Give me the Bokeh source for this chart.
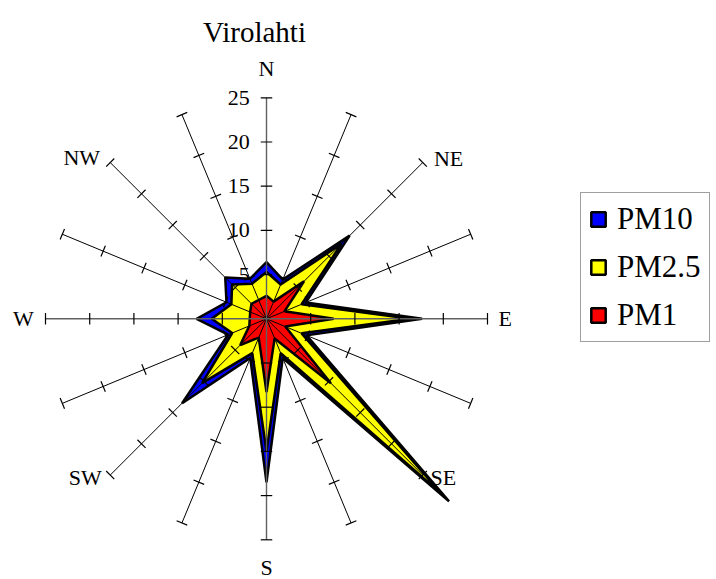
import numpy as np
from bokeh.plotting import figure
from bokeh.models import Range1d, Legend, LegendItem, Label
from bokeh.core.properties import value
from bokeh.embed import file_html
from bokeh.resources import INLINE

# ---- data ----
directions = ["N", "NNE", "NE", "ENE", "E", "ESE", "SE", "SSE",
              "S", "SSW", "SW", "WSW", "W", "WNW", "NW", "NNW"]
pm10 = [6.4, 4.8, 13.3, 4.8, 17.6, 4.9, 29.2, 4.8, 18.5, 4.8, 13.5, 4.7, 7.9, 4.9, 6.6, 4.9]
pm25 = [5.3, 4.2, 12.0, 4.3, 16.3, 4.3, 28.0, 4.2, 15.0, 4.2, 10.3, 4.2, 6.2, 4.3, 5.5, 4.3]
pm1 = [2.6, 2.1, 6.0, 2.2, 7.6, 2.3, 10.3, 2.4, 8.3, 2.3, 4.2, 2.1, 1.9, 2.0, 2.4, 2.3]
series_names = ["PM10", "PM2.5", "PM1"]
series_colors = ["#0000FF", "#FFFF00", "#FF0000"]
tick_values = [0, 5, 10, 15, 20, 25]
axis_max = 25
label_dirs = ["N", "NE", "E", "SE", "S", "SW", "W", "NW"]

# ---- layout ----
W, H = 712, 579
scale = 8.84          # px per unit
cx, cy = 266, 318.3   # centre in figure px (from top-left)
FONT = "Liberation Serif"

p = figure(width=W, height=H,
           x_range=Range1d(-cx / scale, (W - cx) / scale),
           y_range=Range1d(-(H - cy) / scale, cy / scale),
           x_axis_type=None, y_axis_type=None,
           output_backend="svg", toolbar_location=None, min_border=0)
p.grid.visible = False
p.outline_line_color = None
p.background_fill_color = "white"
p.border_fill_color = "white"

ang = np.deg2rad(np.arange(len(directions)) * 360.0 / len(directions))
sx, sy = np.sin(ang), np.cos(ang)

# tick labels on N axis (drawn below the polygons)
p.text(x=[-1.9] * len(tick_values), y=tick_values, text=[str(t) for t in tick_values],
       text_align="right", text_baseline="middle",
       text_font=value(FONT), text_font_size="22px", text_color="black")

# polygons
renderers = []
for vals, col in zip([pm10, pm25, pm1], series_colors):
    v = np.array(vals)
    r = p.patch(x=list(v * sx), y=list(v * sy), fill_color=col,
                line_color="black", line_width=2.5)
    renderers.append(r)

# spokes
card = np.array([i % 4 == 0 for i in range(len(directions))])
p.segment(x0=[0] * int((~card).sum()), y0=[0] * int((~card).sum()),
          x1=list(axis_max * sx[~card]), y1=list(axis_max * sy[~card]),
          line_color="black", line_width=1)
p.segment(x0=[0] * int(card.sum()), y0=[0] * int(card.sum()),
          x1=list(axis_max * sx[card]), y1=list(axis_max * sy[card]),
          line_color="#606060", line_width=1.4)

# tick marks
half = 0.65
tx0, ty0, tx1, ty1 = [], [], [], []
for i in range(len(directions)):
    for t in tick_values[1:]:
        px_, py_ = t * sx[i], t * sy[i]
        nx, ny = sy[i], -sx[i]
        tx0.append(px_ - half * nx); ty0.append(py_ - half * ny)
        tx1.append(px_ + half * nx); ty1.append(py_ + half * ny)
p.segment(x0=tx0, y0=ty0, x1=tx1, y1=ty1, line_color="black", line_width=1.2)

# direction labels
lab_pos = {"N": (0, 28.3), "NE": (20.6, 18.1), "E": (27.0, 0), "SE": (20.0, -17.95),
           "S": (0, -28.1), "SW": (-20.5, -17.95), "W": (-27.5, 0), "NW": (-20.9, 18.2)}
p.text(x=[lab_pos[d][0] for d in label_dirs], y=[lab_pos[d][1] for d in label_dirs],
       text=label_dirs, text_align="center", text_baseline="middle",
       text_font=value(FONT), text_font_size="22px", text_color="black")

# title
p.add_layout(Label(x=254, y=H - 31.7, x_units="screen", y_units="screen",
                   text="Virolahti", text_align="center", text_baseline="alphabetic",
                   text_font=FONT, text_font_size="29px", text_color="black"))

# legend
legend = Legend(items=[LegendItem(label=n, renderers=[r]) for n, r in zip(series_names, renderers)],
                location=(580, H - 342), orientation="vertical",
                glyph_width=18, glyph_height=18, label_standoff=10,
                padding=8, spacing=12, margin=0,
                label_text_font=FONT, label_text_font_size="31px",
                label_text_color="black",
                border_line_color="#404040", border_line_width=1,
                background_fill_color="white", background_fill_alpha=1)
p.add_layout(legend)

open("out.html", "w").write(file_html(p, INLINE))
